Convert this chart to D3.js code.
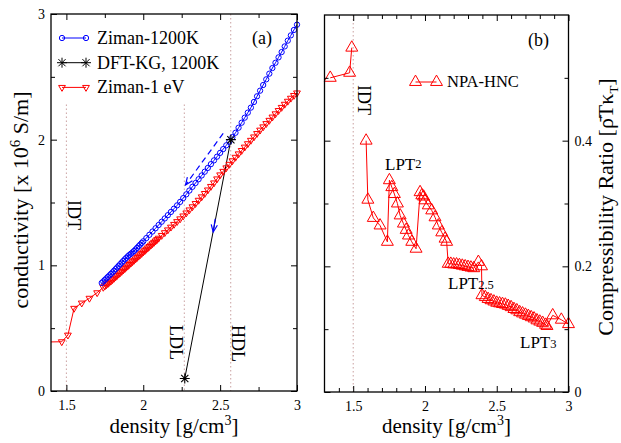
<!DOCTYPE html>
<html>
<head>
<meta charset="utf-8">
<script src="https://cdn.jsdelivr.net/npm/d3@7/dist/d3.min.js"></script>
<style>
body { margin: 0; background: #fff; }
svg, text, tspan { font-family: "Liberation Serif", "Times New Roman", Times, serif; }
</style>
</head>
<body>
<svg id="chart" width="621" height="443" font-family="Liberation Serif, serif"></svg>
<script>
// panel (a): conductivity vs density
var zimanDensity = [1.73,1.74,1.75,1.76,1.77,1.78,1.79,1.80,1.81,1.82,1.83,1.84,1.85,1.86,1.87,1.88,1.89,1.90,1.91,1.92,1.93,1.94,1.95,1.96,1.97,1.98,1.99,2.00,
    2.02,2.04,2.06,2.08,2.10,2.12,2.14,2.16,2.18,2.20,2.22,2.24,2.26,2.28,2.30,2.32,2.34,2.36,2.38,2.40,2.42,2.44,2.46,2.48,2.50,
    2.52,2.54,2.56,2.58,2.60,2.62,2.64,2.66,2.68,2.70,2.72,2.74,2.76,2.78,2.80,2.82,2.84,2.86,2.88,2.90,2.92,2.94,2.96,2.98,3.00];
var zimanCond = [0.860,0.872,0.884,0.896,0.908,0.920,0.932,0.944,0.957,0.970,0.983,0.996,1.009,1.022,1.035,1.048,1.060,1.072,1.083,1.093,1.103,1.114,1.126,1.139,1.152,1.165,1.178,1.191,
    1.217,1.243,1.269,1.295,1.321,1.347,1.373,1.399,1.425,1.451,1.477,1.505,1.535,1.565,1.595,1.625,1.655,1.685,1.715,1.745,1.775,1.805,1.835,1.865,1.895,
    1.925,1.955,1.985,2.020,2.055,2.095,2.135,2.175,2.215,2.255,2.300,2.345,2.390,2.435,2.480,2.525,2.570,2.612,2.655,2.697,2.742,2.788,2.830,2.873,2.915];

var eVDensity = [1.38,1.47,1.51,1.55,1.60,1.65,1.70,1.74,1.75,1.76,1.77,1.78,1.79,1.80,1.81,1.82,1.83,1.84,1.85,1.86,1.87,1.88,1.89,1.90,1.91,1.92,1.93,1.94,1.95,
    1.96,1.97,1.98,1.99,2.00,2.01,2.02,2.03,2.04,2.05,2.06,2.07,2.08,2.09,2.10,2.12,2.14,2.16,2.18,2.20,2.22,2.24,2.26,2.28,2.30,2.32,2.34,2.36,2.38,2.40,
    2.42,2.44,2.46,2.48,2.50,2.52,2.54,2.56,2.58,2.60,2.62,2.64,2.66,2.68,2.70,2.72,2.74,2.76,2.78,2.80,2.82,2.84,2.86,2.88,2.90,2.92,2.94,2.96,2.98,3.00];
var eVCond = [0.390,0.392,0.445,0.658,0.700,0.738,0.782,0.825,0.835,0.845,0.855,0.865,0.875,0.886,0.897,0.908,0.919,0.930,0.941,0.952,0.963,0.974,0.985,0.996,1.007,1.018,1.029,1.040,1.051,
    1.062,1.073,1.084,1.095,1.106,1.117,1.128,1.139,1.150,1.161,1.172,1.183,1.194,1.205,1.216,1.238,1.260,1.282,1.304,1.326,1.348,1.370,1.393,1.417,1.441,1.466,1.492,1.518,1.545,1.572,
    1.600,1.628,1.656,1.688,1.720,1.748,1.776,1.804,1.832,1.860,1.887,1.914,1.941,1.968,1.995,2.022,2.049,2.076,2.102,2.128,2.154,2.180,2.206,2.232,2.257,2.282,2.306,2.330,2.352,2.372];

var dftDensity = [2.27, 2.57];
var dftCond = [0.10, 2.00];

// guide lines (density) and their labels
var guideNames = ["IDT", "LDL", "HDL"];
var guideDensity = [1.5, 2.267, 2.569];
var guideTop = [2.28, 2.28, 3.0];

// arrows drawn in panel (a): [x0, y0, x1, y1], head at x1,y1
var arrowDashed = [2.52, 2.05, 2.275, 1.64];
var arrowSolid = [2.468, 1.37, 2.455, 1.265];

// panel (b): compressibility ratio, NPA-HNC (null = break in the line)
var npaDensity = [1.34,1.475,1.49,null,
    1.59,1.602,1.64,1.687,1.738,1.752,1.769,1.787,1.808,1.827,1.850,1.869,1.885,1.908,1.938,
    1.966,1.978,1.990,2.000,2.023,2.047,2.070,2.093,2.117,2.140,2.151,
    2.162,2.18,2.20,2.22,2.24,2.26,2.28,2.30,2.32,2.34,2.372,2.394,
    2.397,2.42,2.44,2.46,2.48,2.50,2.52,2.54,2.56,2.58,2.60,2.62,2.64,2.66,2.68,2.70,2.72,2.74,2.76,2.78,2.80,2.82,2.84,2.85,
    2.89,2.95,3.00];
var npaRatio = [0.500,0.508,0.548,null,
    0.400,0.306,0.277,0.265,0.239,0.337,0.326,0.315,0.300,0.281,0.268,0.258,0.249,0.239,0.228,
    0.318,0.313,0.311,0.305,0.297,0.289,0.278,0.265,0.254,0.244,0.239,
    0.204,0.204,0.203,0.203,0.202,0.201,0.200,0.199,0.198,0.197,0.207,0.200,
    0.154,0.151,0.148,0.146,0.144,0.142,0.141,0.140,0.139,0.137,0.135,0.132,0.130,0.127,0.125,0.123,0.121,0.119,0.117,0.114,0.112,0.110,0.107,0.105,
    0.122,0.115,0.108];

var aXMajor = [1.5, 2, 2.5, 3], aXMinor = [1.75, 2.25, 2.75];
var aYMajor = [0, 1, 2, 3], aYMinor = [0.5, 1.5, 2.5];
var bXMajor = [1.5, 2, 2.5, 3], bXMinor = [1.4, 1.6, 1.7, 1.8, 1.9, 2.1, 2.2, 2.3, 2.4, 2.6, 2.7, 2.8, 2.9];
var bYMajor = [0, 0.2, 0.4], bYMinor = [0.1, 0.3, 0.5];

var svg = d3.select("#chart");
var dotted = "#c9a0a0";
var serif = "Liberation Serif, Times New Roman, serif";

function toPoints(xs, ys) {
    return xs.map(function (d, i) { return {x: d, y: ys[i]}; });
}

// frame with inward ticks on all four sides
function drawFrame(g, x, y, xMaj, xMin, yMaj, yMin, yLabelsRight) {
    var w = x.range()[1] - x.range()[0];
    var h = y.range()[0] - y.range()[1];
    function style(ax) {
        ax.select(".domain").remove();
        ax.attr("font-size", 14).attr("font-family", serif);
        ax.selectAll("line").attr("stroke", "#000");
    }
    var fmt = function (d) { return String(d); };
    g.append("g").attr("transform", "translate(0," + h + ")")
        .call(d3.axisBottom(x).tickValues(xMaj).tickSize(-6).tickPadding(9).tickFormat(fmt)).call(style);
    g.append("g").attr("transform", "translate(0," + h + ")")
        .call(d3.axisBottom(x).tickValues(xMin).tickSize(-4).tickFormat("")).call(style);
    g.append("g")
        .call(d3.axisTop(x).tickValues(xMaj).tickSize(-6).tickFormat("")).call(style);
    g.append("g")
        .call(d3.axisTop(x).tickValues(xMin).tickSize(-4).tickFormat("")).call(style);
    var left = d3.axisLeft(y).tickValues(yMaj).tickSize(-6).tickPadding(6);
    var right = d3.axisRight(y).tickValues(yMaj).tickSize(-6).tickPadding(6);
    if (yLabelsRight) { left.tickFormat(""); right.tickFormat(fmt); }
    else { left.tickFormat(fmt); right.tickFormat(""); }
    g.append("g").call(left).call(style);
    g.append("g").attr("transform", "translate(" + w + ",0)").call(right).call(style);
    g.append("g").call(d3.axisLeft(y).tickValues(yMin).tickSize(-4).tickFormat("")).call(style);
    g.append("g").attr("transform", "translate(" + w + ",0)")
        .call(d3.axisRight(y).tickValues(yMin).tickSize(-4).tickFormat("")).call(style);
    g.append("rect").attr("width", w).attr("height", h)
        .attr("fill", "none").attr("stroke", "#000").attr("stroke-width", 1.3);
}

function arrow(g, x, y, a, color, dash) {
    var x0 = x(a[0]), y0 = y(a[1]), x1 = x(a[2]), y1 = y(a[3]);
    g.append("line").attr("x1", x0).attr("y1", y0).attr("x2", x1).attr("y2", y1)
        .attr("stroke", color).attr("stroke-width", 1.2).attr("stroke-dasharray", dash);
    var ang = Math.atan2(y0 - y1, x0 - x1), L = 8, s = 0.4;
    var p = "M" + (x1 + L * Math.cos(ang - s)) + "," + (y1 + L * Math.sin(ang - s)) +
        "L" + x1 + "," + y1 + "L" + (x1 + L * Math.cos(ang + s)) + "," + (y1 + L * Math.sin(ang + s));
    g.append("path").attr("d", p).attr("fill", "none").attr("stroke", color).attr("stroke-width", 1.2);
}

var circle = d3.symbol().type(d3.symbolCircle).size(22);
var tri = d3.symbol().type(d3.symbolTriangle).size(20);
var bigTri = d3.symbol().type(d3.symbolTriangle).size(62);
var star = "M-5,0H5M0,-5V5M-3.6,-3.6L3.6,3.6M-3.6,3.6L3.6,-3.6";

/* ---------- panel (a) ---------- */
var ga = svg.append("g").attr("transform", "translate(51,14)");
var xa = d3.scaleLinear().domain([1.4, 3]).range([0, 246]);
var ya = d3.scaleLinear().domain([0, 3]).range([377, 0]);

svg.append("defs").append("clipPath").attr("id", "clipA")
    .append("rect").attr("width", 246).attr("height", 377);

guideDensity.forEach(function (d, i) {
    ga.append("line").attr("x1", xa(d)).attr("x2", xa(d))
        .attr("y1", ya(guideTop[i])).attr("y2", ya(0))
        .attr("stroke", dotted).attr("stroke-width", 1).attr("stroke-dasharray", "1.5,2.5");
});
var guideTextPos = [[68, 200], [170, 325], [232, 325]];
guideNames.forEach(function (n, i) {
    svg.append("text").attr("transform", "translate(" + guideTextPos[i][0] + "," + guideTextPos[i][1] + ") rotate(90)")
        .attr("font-size", 18).text(n);
});

var lineA = d3.line().x(function (d) { return xa(d.x); }).y(function (d) { return ya(d.y); });
var zimanPts = toPoints(zimanDensity, zimanCond);
var eVPts = toPoints(eVDensity, eVCond);
var dftPts = toPoints(dftDensity, dftCond);

var plotA = ga.append("g").attr("clip-path", "url(#clipA)");
plotA.append("path").attr("d", lineA(eVPts)).attr("fill", "none").attr("stroke", "#ff0000").attr("stroke-width", 1);
plotA.append("path").attr("d", lineA(zimanPts)).attr("fill", "none").attr("stroke", "#0000ff").attr("stroke-width", 1);

ga.selectAll(".ev").data(eVPts.filter(function (d) { return d.x >= 1.4; })).enter().append("path")
    .attr("d", tri).attr("transform", function (d) { return "translate(" + xa(d.x) + "," + ya(d.y) + ") rotate(180)"; })
    .attr("fill", "none").attr("stroke", "#ff0000").attr("stroke-width", 1);
ga.selectAll(".zi").data(zimanPts).enter().append("path")
    .attr("d", circle).attr("transform", function (d) { return "translate(" + xa(d.x) + "," + ya(d.y) + ")"; })
    .attr("fill", "none").attr("stroke", "#0000ff").attr("stroke-width", 1);

plotA.append("path").attr("d", lineA(dftPts)).attr("fill", "none").attr("stroke", "#000").attr("stroke-width", 1);
ga.selectAll(".dft").data(dftPts).enter().append("path")
    .attr("d", star).attr("transform", function (d) { return "translate(" + xa(d.x) + "," + ya(d.y) + ")"; })
    .attr("fill", "none").attr("stroke", "#000").attr("stroke-width", 1.1);

arrow(ga, xa, ya, arrowDashed, "#0000ff", "6,4");
arrow(ga, xa, ya, arrowSolid, "#0000ff", null);

drawFrame(ga, xa, ya, aXMajor, aXMinor, aYMajor, aYMinor, false);

// legend (a)
var legA = [
    {name: "Ziman-1200K", color: "#0000ff", mark: "circle"},
    {name: "DFT-KG, 1200K", color: "#000", mark: "star"},
    {name: "Ziman-1 eV", color: "#ff0000", mark: "tri"}
];
legA.forEach(function (d, i) {
    var yy = 38 + i * 24.7;
    svg.append("line").attr("x1", 62).attr("x2", 86).attr("y1", yy).attr("y2", yy)
        .attr("stroke", d.color).attr("stroke-width", 1);
    [62, 86].forEach(function (xx) {
        var p = svg.append("path").attr("fill", "none").attr("stroke", d.color).attr("stroke-width", 1);
        if (d.mark === "circle") p.attr("d", circle).attr("transform", "translate(" + xx + "," + yy + ")");
        else if (d.mark === "star") p.attr("d", star).attr("transform", "translate(" + xx + "," + yy + ")");
        else p.attr("d", tri).attr("transform", "translate(" + xx + "," + yy + ") rotate(180)");
    });
    svg.append("text").attr("x", 97).attr("y", yy + 6).attr("font-size", 18).text(d.name);
});
svg.append("text").attr("x", 252).attr("y", 44).attr("font-size", 18).text("(a)");

// axis titles (a)
var yta = svg.append("text").attr("transform", "translate(28,200) rotate(-90)")
    .attr("text-anchor", "middle").attr("font-size", 22);
yta.append("tspan").text("conductivity [x 10");
yta.append("tspan").attr("font-size", 15).attr("dy", -8).text("6");
yta.append("tspan").attr("dy", 8).text(" S/m]");

/* ---------- panel (b) ---------- */
var gb = svg.append("g").attr("transform", "translate(324.5,15)");
var xb = d3.scaleLinear().domain([1.3, 3]).range([0, 244]);
var yb = d3.scaleLinear().domain([0, 0.6]).range([377, 0]);

gb.append("line").attr("x1", xb(1.5)).attr("x2", xb(1.5)).attr("y1", yb(0.6)).attr("y2", yb(0))
    .attr("stroke", dotted).attr("stroke-width", 1).attr("stroke-dasharray", "1.5,2.5");
svg.append("text").attr("transform", "translate(358,85) rotate(90)").attr("font-size", 18).text("IDT");

var npaPts = toPoints(npaDensity, npaRatio);
var lineB = d3.line().defined(function (d) { return d.x !== null; })
    .x(function (d) { return xb(d.x); }).y(function (d) { return yb(d.y); });
gb.append("path").attr("d", lineB(npaPts)).attr("fill", "none").attr("stroke", "#ff0000").attr("stroke-width", 1);
gb.selectAll(".npa").data(npaPts.filter(function (d) { return d.x !== null; })).enter().append("path")
    .attr("d", bigTri).attr("transform", function (d) { return "translate(" + xb(d.x) + "," + yb(d.y) + ")"; })
    .attr("fill", "none").attr("stroke", "#ff0000").attr("stroke-width", 1);

drawFrame(gb, xb, yb, bXMajor, bXMinor, bYMajor, bYMinor, true);

// legend (b)
svg.append("line").attr("x1", 415.5).attr("x2", 436.5).attr("y1", 82).attr("y2", 82)
    .attr("stroke", "#ff0000").attr("stroke-width", 1);
[415.5, 436.5].forEach(function (xx) {
    svg.append("path").attr("d", bigTri).attr("transform", "translate(" + xx + ",82)")
        .attr("fill", "none").attr("stroke", "#ff0000").attr("stroke-width", 1);
});
svg.append("text").attr("x", 447).attr("y", 87).attr("font-size", 16.5).text("NPA-HNC");
svg.append("text").attr("x", 528).attr("y", 46).attr("font-size", 18).text("(b)");

// transition labels
var lptText = ["2", "2.5", "3"];
var lptPos = [[385, 170, -2], [448, 289, 0], [520, 348, 0]];
lptText.forEach(function (t, i) {
    var tx = svg.append("text").attr("x", lptPos[i][0]).attr("y", lptPos[i][1]).attr("font-size", 17);
    tx.append("tspan").text("LPT");
    tx.append("tspan").attr("font-size", 12.5).attr("dy", lptPos[i][2]).text(t);
});

var ytb = svg.append("text").attr("transform", "translate(613,207) rotate(-90)")
    .attr("text-anchor", "middle").attr("font-size", 22);
ytb.append("tspan").text("Compressibility Ratio [\u03C1\u0304T\u03BA");
ytb.append("tspan").attr("font-size", 13).attr("dy", 5).text("T");
ytb.append("tspan").attr("dy", -5).text("]");

// x titles
[174, 446.5].forEach(function (cx) {
    var t = svg.append("text").attr("x", cx).attr("y", 433).attr("text-anchor", "middle").attr("font-size", 21);
    t.append("tspan").text("density [g/cm");
    t.append("tspan").attr("font-size", 14).attr("dy", -8).text("3");
    t.append("tspan").attr("dy", 8).text("]");
});
</script>
</body>
</html>
